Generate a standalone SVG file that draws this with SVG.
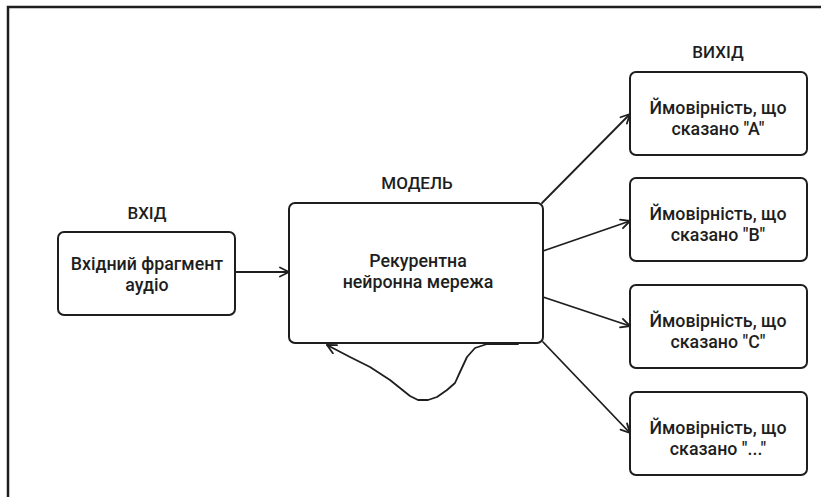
<svg xmlns="http://www.w3.org/2000/svg" width="821" height="497" viewBox="0 0 821 497">
<defs>
<style>
.box{fill:#fff;stroke:#1e1e1e;stroke-width:2}
.t{font-family:Roboto,"Liberation Sans",sans-serif;font-size:17.8px;font-weight:500;fill:#1e1e1e;text-anchor:middle}
.h{font-family:Roboto,"Liberation Sans",sans-serif;font-size:17px;font-weight:500;fill:#1e1e1e;text-anchor:middle}
.c{fill:none;stroke:#1e1e1e;stroke-width:1.8;stroke-linecap:round;stroke-linejoin:round}
</style>
<marker id="ah" viewBox="0 0 12 12" refX="11" refY="6" markerWidth="12" markerHeight="12" markerUnits="userSpaceOnUse" orient="auto">
<path d="M2,1.5 L11,6 L2,10.5" fill="none" stroke="#1e1e1e" stroke-width="1.8" stroke-linecap="round" stroke-linejoin="round"/>
</marker>
</defs>
<rect width="821" height="497" fill="#fff"/>
<rect x="8" y="7" width="900" height="600" fill="none" stroke="#1e1e1e" stroke-width="2.5"/>

<g id="connectors">
<line class="c" x1="235" y1="272" x2="289" y2="272" marker-end="url(#ah)"/>
<line class="c" x1="542" y1="203" x2="630" y2="114" marker-end="url(#ah)"/>
<line class="c" x1="543" y1="251" x2="630" y2="221" marker-end="url(#ah)"/>
<line class="c" x1="543" y1="297" x2="630" y2="326" marker-end="url(#ah)"/>
<line class="c" x1="543" y1="342" x2="630" y2="433" marker-end="url(#ah)"/>
<path class="c" d="M518,344 L487,344 L475,348 L467,357 L460,372 L455,383 L447,390 L437,397 L428,400 L418,400 L410,396 L400,388 L390,380 L370,367 L350,357 L327,345" marker-end="url(#ah)"/>
</g>

<g id="input">
<text class="h" x="147" y="219">ВХІД</text>
<rect class="box" x="58" y="232" width="177" height="83" rx="6"/>
<text class="t" x="147" y="270">Вхідний фрагмент</text>
<text class="t" x="147" y="291">аудіо</text>
</g>

<g id="model">
<text class="h" x="417" y="189">МОДЕЛЬ</text>
<rect class="box" x="289" y="203" width="254" height="140" rx="6"/>
<text class="t" x="418" y="267">Рекурентна</text>
<text class="t" x="418" y="288">нейронна мережа</text>
</g>

<g id="output-label">
<text class="h" x="718" y="58">ВИХІД</text>
</g>

<g id="outA">
<rect class="box" x="630" y="72" width="177" height="83" rx="6"/>
<text class="t" x="718" y="114">Ймовірність, що</text>
<text class="t" x="718" y="135">сказано "А"</text>
</g>
<g id="outB">
<rect class="box" x="630" y="178" width="177" height="83" rx="6"/>
<text class="t" x="718" y="220">Ймовірність, що</text>
<text class="t" x="718" y="241">сказано "B"</text>
</g>
<g id="outC">
<rect class="box" x="630" y="285" width="177" height="83" rx="6"/>
<text class="t" x="718" y="327">Ймовірність, що</text>
<text class="t" x="718" y="348">сказано "C"</text>
</g>
<g id="outD">
<rect class="box" x="630" y="392" width="177" height="83" rx="6"/>
<text class="t" x="718" y="434">Ймовірність, що</text>
<text class="t" x="718" y="455">сказано "..."</text>
</g>
</svg>
